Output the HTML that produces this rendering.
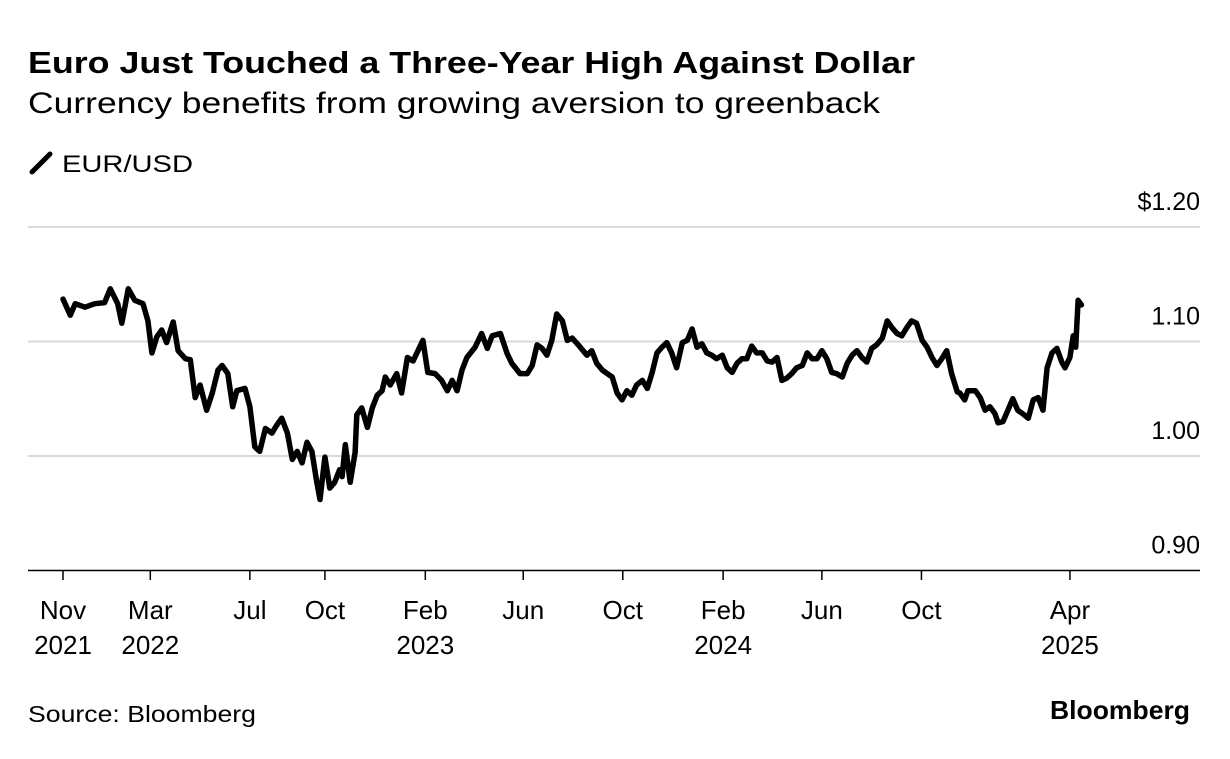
<!DOCTYPE html>
<html><head><meta charset="utf-8"><style>
html,body{margin:0;padding:0;background:#fff;}
body{width:1230px;height:754px;overflow:hidden;font-family:"Liberation Sans",Arial,sans-serif;color:#000;}
</style></head><body>
<svg id="c" width="1230" height="754" xmlns="http://www.w3.org/2000/svg">
<text x="28" y="73" font-size="31" font-weight="bold" textLength="887" lengthAdjust="spacingAndGlyphs">Euro Just Touched a Three-Year High Against Dollar</text>
<text x="28" y="113" font-size="30" textLength="852" lengthAdjust="spacingAndGlyphs">Currency benefits from growing aversion to greenback</text>
<line x1="32" y1="172" x2="50" y2="154" stroke="#000" stroke-width="5" stroke-linecap="round"/>
<text x="62" y="172" font-size="24" textLength="131" lengthAdjust="spacingAndGlyphs">EUR/USD</text>
<g id="grid"></g>
<g id="xt"></g>
<path id="line" fill="none" stroke="#000" stroke-width="5.5" stroke-linejoin="round" stroke-linecap="round"/>
<text x="28" y="722" font-size="23" textLength="228" lengthAdjust="spacingAndGlyphs">Source: Bloomberg</text>
<text x="1050" y="719" font-size="26" font-weight="bold" textLength="140" lengthAdjust="spacingAndGlyphs">Bloomberg</text>
</svg>
<script>
const startDate = "2021-11-14";
const dayOffsets = [0,9,15,27,39,51,58,67,72,80,88,98,104,109,115,121,127,135,141,150,156,162,168,176,183,190,195,202,208,213,223,229,235,241,248,256,262,268,275,281,287,293,299,305,311,315,321,327,333,339,
342,346,352,358,360,366,373,379,385,391,395,401,409,415,422,429,435,441,447,456,464,471,477,483,489,495,505,513,520,526,536,544,550,560,569,575,581,587,593,599,605,612,618,624,634,642,648,654,661,667,673,679,685,691,697,703,
710,716,722,728,734,740,746,752,759,765,771,777,783,789,795,801,808,814,820,826,832,838,844,850,857,863,869,875,881,887,893,899,906,912,918,924,930,936,942,948,955,961,967,973,979,985,991,997,1004,1010,1016,1022,1028,1034,1040,1046,1053,1059,1065,1071,1077,1083,1089,1096,
1099,1105,1109,1118,1124,1130,1136,1142,1146,1152,1158,1164,1170,1176,1183,1189,1195,1201,1206,1212,1218,1224,1228,1234,1238,1241,1244,1248];
const eurUsd = [1.137,1.123,1.133,1.130,1.133,1.134,1.146,1.133,1.116,1.146,1.136,1.133,1.118,1.090,1.104,1.110,1.099,1.117,1.092,1.085,1.084,1.051,1.062,1.040,1.055,1.075,1.079,1.072,1.043,1.057,1.059,1.043,1.008,1.004,1.024,1.020,1.027,1.033,1.020,0.997,1.004,0.994,1.012,1.004,0.977,0.962,0.999,0.972,0.977,0.988,
0.982,1.010,0.977,1.003,1.036,1.042,1.025,1.042,1.053,1.057,1.069,1.062,1.072,1.055,1.086,1.083,1.092,1.101,1.073,1.072,1.066,1.057,1.066,1.057,1.075,1.086,1.095,1.107,1.094,1.105,1.107,1.090,1.081,1.072,1.072,1.079,1.097,1.094,1.088,1.101,1.124,1.118,1.101,1.103,1.095,1.088,1.092,1.081,1.075,1.072,1.069,1.055,1.049,1.057,1.053,1.062,
1.066,1.059,1.073,1.090,1.095,1.099,1.090,1.077,1.099,1.101,1.111,1.095,1.098,1.090,1.088,1.085,1.088,1.077,1.073,1.081,1.085,1.085,1.096,1.090,1.090,1.083,1.082,1.086,1.066,1.068,1.072,1.077,1.079,1.090,1.085,1.085,1.092,1.085,1.073,1.072,1.069,1.081,1.088,1.092,1.086,1.082,1.094,1.097,1.103,1.118,1.112,1.107,1.105,1.112,1.118,1.116,1.101,1.095,1.086,1.079,1.085,1.092,1.072,1.056,
1.055,1.049,1.057,1.057,1.051,1.040,1.043,1.037,1.029,1.030,1.040,1.050,1.040,1.037,1.033,1.049,1.051,1.040,1.077,1.090,1.094,1.082,1.077,1.086,1.105,1.095,1.136,1.132];
const yTicks = [0.90,1.00,1.10,1.20];
const yTickLabels = ["0.90","1.00","1.10","$1.20"];
const xTickDates = ["2021-11-14","2022-03-01","2022-07-01","2022-10-01","2023-02-01","2023-06-01","2023-10-01","2024-02-01","2024-06-01","2024-10-01","2025-04-01"];
const xTickLine1 = ["Nov","Mar","Jul","Oct","Feb","Jun","Oct","Feb","Jun","Oct","Apr"];
const xTickLine2 = ["2021","2022","","","2023","","","2024","","","2025"];

const NS="http://www.w3.org/2000/svg";
const X0=63, PXD=0.816;
function dayOf(s){return Math.round((Date.parse(s)-Date.parse(startDate))/86400000);}
function xs(d){return X0+d*PXD;}
function ys(v){return 456-(v-1.0)*1145;}
const grid=document.getElementById('grid');
yTicks.forEach((t,i)=>{
  const y=ys(t);
  const l=document.createElementNS(NS,'line');
  l.setAttribute('x1',28);l.setAttribute('x2',1200);l.setAttribute('y1',y);l.setAttribute('y2',y);
  l.setAttribute('stroke',i===0?'#000':'#d9d9d9');l.setAttribute('stroke-width',i===0?1.5:2);
  
  
  grid.appendChild(l);
  const tx=document.createElementNS(NS,'text');
  tx.setAttribute('x',1200);tx.setAttribute('y',y-17);tx.setAttribute('text-anchor','end');tx.setAttribute('font-size','25');
  tx.textContent=yTickLabels[i];
  
  
  grid.appendChild(tx);
});
const xt=document.getElementById('xt');
xTickDates.forEach((s,i)=>{
  const x=xs(dayOf(s));
  const l=document.createElementNS(NS,'line');
  l.setAttribute('x1',x);l.setAttribute('x2',x);l.setAttribute('y1',570);l.setAttribute('y2',580);
  l.setAttribute('stroke','#000');l.setAttribute('stroke-width',1.5);
  
  
  xt.appendChild(l);
  [[xTickLine1[i],619],[xTickLine2[i],654]].forEach(([t,y])=>{
    if(!t)return;
    const tx=document.createElementNS(NS,'text');
    tx.setAttribute('x',x);tx.setAttribute('y',y);tx.setAttribute('text-anchor','middle');tx.setAttribute('font-size','26');
    tx.textContent=t;
    
    
    xt.appendChild(tx);
  });
});
let d='';
dayOffsets.forEach((dd,i)=>{d+=(i?'L':'M')+xs(dd).toFixed(1)+' '+ys(eurUsd[i]).toFixed(1);});
document.getElementById('line').setAttribute('d',d);
</script>
</body></html>
